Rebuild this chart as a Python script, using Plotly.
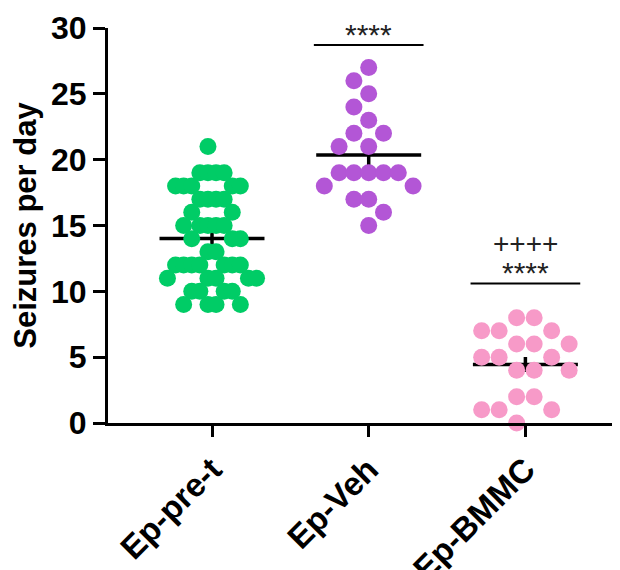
import math
import plotly.graph_objects as go

# ---------------- data ----------------
categories = ["Ep-pre-t", "Ep-Veh", "Ep-BMMC"]
pre_t = [21,
         19, 19, 19, 19,
         18, 18, 18, 18, 18,
         17, 17, 17, 17,
         16, 16,
         15, 15, 15, 15, 15,
         14, 14, 14,
         13, 13,
         12, 12, 12, 12, 12, 12, 12,
         11, 11, 11, 11, 11,
         10, 10, 10, 10,
         9, 9, 9, 9]
veh = [27, 26, 25, 24, 23, 22, 22, 21, 21,
       19, 19, 19, 19, 19, 18, 18, 17, 17, 16, 15]
bmmc = [8, 8, 7, 7, 7, 6, 6, 6, 5, 5, 5, 4, 4, 4, 2, 2, 1, 1, 1, 0]
groups = [pre_t, veh, bmmc]
colors = ["#00CC66", "#B356D6", "#F79AC8"]
sig_stars = ["", "****", "****"]
sig_plus = ["", "", "++++"]

# ---------------- layout helpers ----------------
PX_PER_X = 156.7                 # px per category unit
DOT = 17                         # marker diameter px
STEP = [8.1, 14.8, 17.5]         # horizontal slot step per group (px)
HALF = [True, False, True]       # slots on half-integer grid?


def swarm(values, step, half):
    """Prism-like grid scatter: rows of equal values get distinct slots,
    avoiding the slots already used by the neighbouring rows."""
    rows = {}
    for i, v in enumerate(values):
        rows.setdefault(v, []).append(i)
    used = {}
    offs = [0.0] * len(values)
    base = 0.5 if half else 0.0
    cand = []
    for k in range(0, 12):
        s = base + k
        if s == 0:
            cand.append(0.0)
        else:
            cand.extend([-s, s])
    for v in sorted(rows, reverse=True):
        blocked = set(used.get(v + 1, [])) | set(used.get(v - 1, []))
        mine = []
        for c in cand:
            if len(mine) == len(rows[v]):
                break
            if c in blocked:
                continue
            mine.append(c)
        used[v] = mine
        for idx, c in zip(rows[v], sorted(mine)):
            offs[idx] = c * step / PX_PER_X
    return offs


fig = go.Figure()

for gi, vals in enumerate(groups):
    n = len(vals)
    m = sum(vals) / n
    sd = math.sqrt(sum((v - m) ** 2 for v in vals) / (n - 1))
    sem = sd / math.sqrt(n)
    fig.add_trace(go.Scatter(x=[gi - 0.335, gi + 0.335], y=[m, m], mode="lines",
                             line=dict(color="black", width=3.5),
                             hoverinfo="skip", showlegend=False))
    fig.add_trace(go.Scatter(x=[gi], y=[m], mode="markers",
                             marker=dict(size=1, color="rgba(0,0,0,0)"),
                             error_y=dict(type="data", array=[sem], visible=True,
                                          color="black", thickness=3.5, width=0),
                             hoverinfo="skip", showlegend=False))

for gi, vals in enumerate(groups):
    offs = swarm(vals, STEP[gi], HALF[gi])
    fig.add_trace(go.Scatter(x=[gi + o for o in offs], y=vals, mode="markers",
                             marker=dict(size=DOT, color=colors[gi], line=dict(width=0)),
                             cliponaxis=False, showlegend=False,
                             name=categories[gi]))

shapes = []
annotations = []
for gi in range(len(groups)):
    if sig_stars[gi]:
        ytop = max(groups[gi]) + 1.7 if gi == 1 else max(groups[gi]) + 2.6
        shapes.append(dict(type="line", xref="x", yref="y",
                           x0=gi - 0.35, x1=gi + 0.35, y0=ytop, y1=ytop,
                           line=dict(color="black", width=2)))
        annotations.append(dict(x=gi, y=ytop, xref="x", yref="y", text=sig_stars[gi],
                                showarrow=False, yanchor="bottom", yshift=-8,
                                font=dict(family="Liberation Sans, Arial", size=30,
                                          color="#222222")))
        if sig_plus[gi]:
            annotations.append(dict(x=gi, y=ytop, xref="x", yref="y", text=sig_plus[gi],
                                    showarrow=False, yanchor="bottom", yshift=22,
                                    font=dict(family="Liberation Sans, Arial", size=28,
                                              color="#222222")))

# the page body adds an 8 px offset; margins compensate for it
fig.update_layout(
    width=620, height=570,
    margin=dict(l=100, r=8, t=20, b=155, autoexpand=False),
    paper_bgcolor="white", plot_bgcolor="white",
    font=dict(family="Liberation Sans, Arial", color="black"),
    shapes=shapes, annotations=annotations,
    xaxis=dict(range=[(108 - 212) / PX_PER_X, (620 - 212) / PX_PER_X],
               tickmode="array", tickvals=list(range(len(categories))),
               ticktext=["<b>%s</b>" % c for c in categories],
               tickangle=-45, tickfont=dict(size=33, color="black"),
               showline=True, linecolor="black", linewidth=3,
               ticks="outside", ticklen=11, tickwidth=3, tickcolor="black",
               showgrid=False, zeroline=False, automargin=False),
    yaxis=dict(range=[0, 30], tickvals=[0, 5, 10, 15, 20, 25, 30],
               ticktext=["<b>%d</b>" % v for v in [0, 5, 10, 15, 20, 25, 30]],
               tickfont=dict(size=32, color="black"),
               showline=True, linecolor="black", linewidth=3,
               ticks="outside", ticklen=12, tickwidth=3, tickcolor="black",
               showgrid=False, zeroline=False, automargin=False,
               title=dict(text="<b>Seizures per day</b>", font=dict(size=31, color="black"),
                          standoff=8)),
)

fig.write_html("out.html")
